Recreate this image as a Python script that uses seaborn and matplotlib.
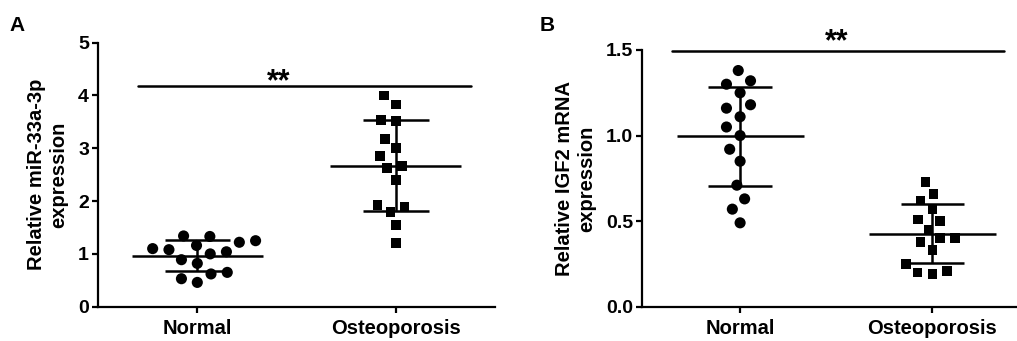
import numpy as np
import pandas as pd
import matplotlib
matplotlib.use("Agg")
import matplotlib.pyplot as plt
import seaborn as sns

sns.set_style("ticks", {"axes.edgecolor": "black", "text.color": "black",
                        "xtick.color": "black", "ytick.color": "black",
                        "axes.labelcolor": "black"})
plt.rcParams['font.family'] = ['Liberation Sans', 'DejaVu Sans']

groups = ["Normal", "Osteoporosis"]

# panel A: relative miR-33a-3p expression
mir_normal = [1.34, 1.25, 1.16, 1.22, 1.33, 1.10, 1.04, 1.08, 1.00, 0.89,
              0.82, 0.62, 0.65, 0.53, 0.46]
mir_osteo = [4.00, 3.83, 3.52, 3.54, 3.18, 3.00, 2.85, 2.62, 2.67, 2.40,
             1.89, 1.93, 1.80, 1.55, 1.21]

# panel B: relative IGF2 mRNA expression
igf_normal = [1.38, 1.30, 1.32, 1.25, 1.18, 1.16, 1.11, 1.05, 1.00, 0.92,
              0.85, 0.71, 0.63, 0.57, 0.49]
igf_osteo = [0.73, 0.66, 0.62, 0.57, 0.51, 0.50, 0.45, 0.40, 0.38, 0.40,
             0.33, 0.25, 0.21, 0.19, 0.20]


def make_df(normal, osteo):
    return pd.DataFrame({
        "group": ["Normal"] * len(normal) + ["Osteoporosis"] * len(osteo),
        "value": normal + osteo,
    })


def scatter_panel(ax, df, ylabel):
    # points: circles for Normal, squares for Osteoporosis
    # (invisible edge widens the swarm spacing a bit)
    sns.swarmplot(data=df[df.group == "Normal"], x="group", y="value",
                  order=groups, color="black", marker="o", size=8,
                  linewidth=3.2, edgecolor="none", ax=ax)
    sns.swarmplot(data=df[df.group == "Osteoporosis"], x="group", y="value",
                  order=groups, color="black", marker="s", size=7,
                  linewidth=3.2, edgecolor="none", ax=ax)

    # mean line and SD bars
    stats = df.groupby("group")["value"].agg(["mean", "std"]).reindex(groups)
    for i, (m, s) in enumerate(zip(stats["mean"], stats["std"])):
        ax.hlines(m, i - 0.33, i + 0.33, color="black", lw=1.8, zorder=3)
        ax.vlines(i, m - s, m + s, color="black", lw=1.8, zorder=3)
        ax.hlines([m - s, m + s], i - 0.165, i + 0.165, color="black",
                  lw=1.8, zorder=3)

    ax.set_xlabel("")
    ax.set_ylabel(ylabel, fontsize=14.5, fontweight="bold", linespacing=1.2,
                  labelpad=7)
    sns.despine(ax=ax)
    for sp in ["left", "bottom"]:
        ax.spines[sp].set_linewidth(1.6)
    ax.tick_params(axis="both", width=1.6, length=4.5, direction="out")
    ax.tick_params(axis="y", labelsize=14, pad=2)
    ax.tick_params(axis="x", labelsize=14.5, pad=4)
    for lab in ax.get_xticklabels() + ax.get_yticklabels():
        lab.set_fontweight("bold")


fig = plt.figure(figsize=(10.17, 3.41), dpi=100)
axA = fig.add_axes([0.0964, 0.1006, 0.3904, 0.7742])
axB = fig.add_axes([0.6313, 0.1006, 0.3687, 0.7528])

scatter_panel(axA, make_df(mir_normal, mir_osteo),
              "Relative miR-33a-3p\nexpression")
axA.set_xlim(-0.5, 1.5)
axA.set_ylim(0, 5)
axA.set_yticks([0, 1, 2, 3, 4, 5])
for lab in axA.get_yticklabels():
    lab.set_fontweight("bold")
axA.plot([-0.30, 1.38], [4.18, 4.18], color="black", lw=1.8, clip_on=False)
axA.text(0.41, 3.96, "**", ha="center", va="bottom", fontsize=22,
         fontweight="bold")

scatter_panel(axB, make_df(igf_normal, igf_osteo),
              "Relative IGF2 mRNA\nexpression")
axB.set_xlim(-0.51, 1.44)
axB.set_ylim(0, 1.5)
axB.set_yticks([0.0, 0.5, 1.0, 1.5])
axB.set_yticklabels(["0.0", "0.5", "1.0", "1.5"])
for lab in axB.get_yticklabels():
    lab.set_fontweight("bold")
axB.plot([-0.354, 1.37], [1.497, 1.497], color="black", lw=1.8,
         clip_on=False)
axB.text(0.5, 1.455, "**", ha="center", va="bottom", fontsize=22,
         fontweight="bold", clip_on=False)

fig.text(0.009, 1 - 31 / 341, "A", fontsize=15, fontweight="bold",
         va="baseline")
fig.text(0.531, 1 - 31 / 341, "B", fontsize=15, fontweight="bold",
         va="baseline")

fig.savefig("out.png", dpi=100)
